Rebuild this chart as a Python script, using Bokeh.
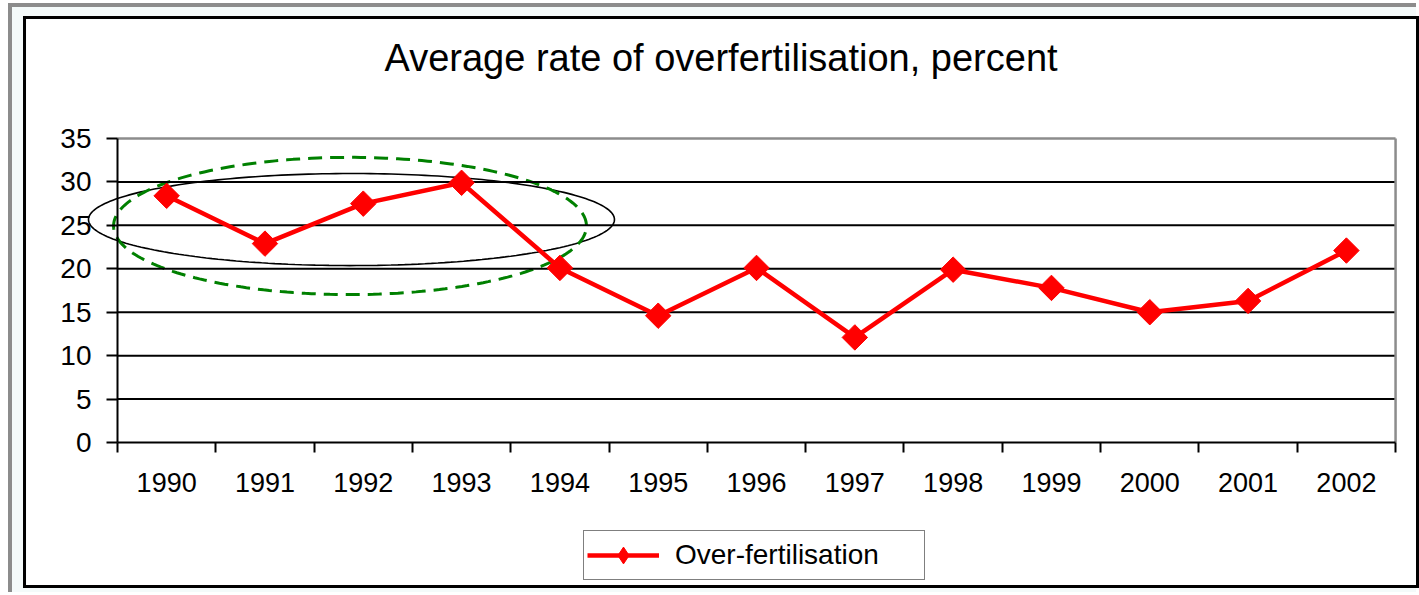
import numpy as np
from bokeh.plotting import figure
from bokeh.models import (Range1d, FixedTicker, Legend, LegendItem, PolyAnnotation, Label)
from bokeh.layouts import column
from bokeh.embed import file_html
from bokeh.resources import INLINE

# ---- data ----
years = ["1990", "1991", "1992", "1993", "1994", "1995", "1996",
         "1997", "1998", "1999", "2000", "2001", "2002"]
values = [28.4, 22.9, 27.5, 29.9, 20.1, 14.6, 20.1, 12.1, 19.9, 17.8, 15.0, 16.3, 22.1]
y_ticks = [0, 5, 10, 15, 20, 25, 30, 35]
title_text = "Average rate of overfertilisation, percent"
series_name = "Over-fertilisation"

FONT = "Liberation Sans"
N = len(years)
YMAX = y_ticks[-1]

xpos = [i + 0.5 for i in range(N)]

# The frame covers the whole canvas; axes sit at fixed data locations inside it.
p = figure(width=1390, height=566, output_backend="svg", toolbar_location=None,
           x_range=Range1d(-0.9256, 13.213), y_range=Range1d(-16.46, 48.70),
           min_border_left=0, min_border_right=0, min_border_top=0, min_border_bottom=0,
           background_fill_color="white", border_fill_color="white",
           margin=(12, 0, 7, 14),
           styles={"outline": "3px solid black"})
p.outline_line_color = None
p.xgrid.visible = False
p.ygrid.visible = False

# title
p.add_layout(Label(x=6.139, y=44.3, text=title_text, text_align="center",
                   text_baseline="middle", text_font=FONT, text_font_size="38px",
                   text_color="black"))

# grid lines (from the tick list) over the plot area
p.segment(x0=[0] * (len(y_ticks) - 2), x1=[N] * (len(y_ticks) - 2),
          y0=y_ticks[1:-1], y1=y_ticks[1:-1], line_color="black", line_width=2)
# plot-area border (top and right, grey)
p.segment(x0=[0, N], x1=[N, N], y0=[YMAX, 0], y1=[YMAX, YMAX],
          line_color="#8c8c8c", line_width=2.5)

# y axis
p.yaxis.fixed_location = 0
p.yaxis.bounds = (0, YMAX)
p.yaxis.ticker = FixedTicker(ticks=y_ticks)
p.yaxis.axis_line_color = "black"
p.yaxis.axis_line_width = 2
p.yaxis.major_tick_line_color = "black"
p.yaxis.major_tick_line_width = 2
p.yaxis.major_tick_out = 11
p.yaxis.major_tick_in = 0
p.yaxis.minor_tick_line_color = None
p.yaxis.major_label_standoff = 15
p.yaxis.major_label_text_font = FONT
p.yaxis.major_label_text_font_size = "28px"
p.yaxis.major_label_text_color = "black"

# x axis: labels at centres, ticks at category boundaries
p.xaxis.fixed_location = 0
p.xaxis.bounds = (0, N)
p.xaxis.ticker = FixedTicker(ticks=xpos, minor_ticks=list(range(N + 1)))
p.xaxis.major_label_overrides = {x: y for x, y in zip(xpos, years)}
p.xaxis.axis_line_color = "black"
p.xaxis.axis_line_width = 2
p.xaxis.major_tick_line_color = None
p.xaxis.major_tick_out = 0
p.xaxis.major_tick_in = 0
p.xaxis.minor_tick_line_color = "black"
p.xaxis.minor_tick_line_width = 2
p.xaxis.minor_tick_out = 10
p.xaxis.minor_tick_in = 0
p.xaxis.major_label_standoff = 20
p.xaxis.major_label_text_font = FONT
p.xaxis.major_label_text_font_size = "27px"
p.xaxis.major_label_text_color = "black"

# highlight ellipses (decoration)
t = np.linspace(0, 2 * np.pi, 240)
def ellipse_pts(cx, cy, w, h):
    return list(cx + w / 2 * np.cos(t)), list(cy + h / 2 * np.sin(t))

ex, ey = ellipse_pts(2.38, 25.67, 5.35, 10.6)
p.add_layout(PolyAnnotation(xs=ex, ys=ey, fill_alpha=0, line_color="black", line_alpha=1,
                            line_width=1.6, level="underlay"))
gx, gy = ellipse_pts(2.365, 24.93, 4.81, 15.8)
p.add_layout(PolyAnnotation(xs=gx, ys=gy, fill_alpha=0, line_color="#008000", line_alpha=1,
                            line_width=3, line_dash="14 8", level="underlay"))

# series
ln = p.line(xpos, values, line_color="red", line_width=4.5)
# diamond glyph used for the legend swatch (hidden beneath the plotted markers)
lg_mk = p.scatter(xpos, values, marker="diamond", size=18, fill_color="red", line_color="red")
mk = p.scatter(xpos, values, marker="square", angle=np.pi / 4, size=18,
               fill_color="red", line_color="red")

legend = Legend(items=[LegendItem(label=series_name, renderers=[ln, lg_mk])],
                location=(557, 5), orientation="horizontal",
                glyph_width=72, glyph_height=42, label_height=42, label_width=246,
                padding=3, margin=0, label_standoff=16,
                border_line_color="black", border_line_width=1.5,
                background_fill_color="white", background_fill_alpha=1,
                label_text_font=FONT, label_text_font_size="28px", label_text_color="black")
p.add_layout(legend, "center")

layout = column(p, margin=(3, 0, 0, 8),
                styles={"background-color": "#f4fafa",
                        "border-top": "4px solid #8c8c8c",
                        "border-left": "4px solid #8c8c8c"})

open("out.html", "w").write(file_html(layout, INLINE))
